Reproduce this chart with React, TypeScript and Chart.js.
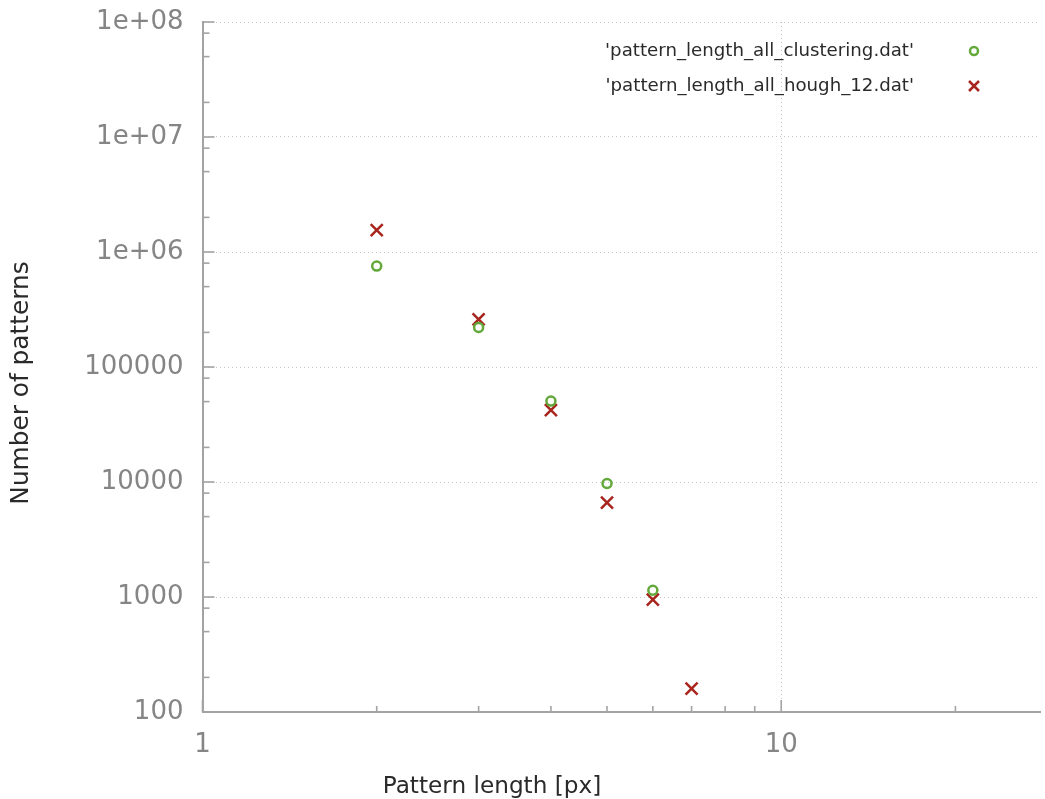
import React, { useEffect, useRef } from "react";
import { Chart, registerables } from "chart.js";

Chart.register(...registerables);

// ---- data ----
const clusteringX = [2, 3, 4, 5, 6];
const clusteringCounts = [754000, 221000, 50500, 9700, 1145];
const houghX = [2, 3, 4, 5, 6, 7];
const houghCounts = [1550000, 259000, 42200, 6630, 950, 160];
const seriesLabels = [
  "'pattern_length_all_clustering.dat'",
  "'pattern_length_all_hough_12.dat'",
];
const xTickValues = [1, 10];
const xTickLabels = ["1", "10"];
const xMinorValues = [2, 3, 4, 5, 6, 7, 8, 9, 20];
const yTickValues = [100, 1000, 10000, 100000, 1e6, 1e7, 1e8];
const yTickLabels = ["100", "1000", "10000", "100000", "1e+06", "1e+07", "1e+08"];
const yMinorMultipliers = [2, 5, 8];
const xTitle = "Pattern length [px]";
const yTitle = "Number of patterns";

// ---- styles ----
const FONT = "'DejaVu Sans', sans-serif";
const GREEN = "#62a83a";
const RED = "#a8251e";
const AXIS = "#a3a3a3";
const TICK_TEXT = "#858585";
const TITLE_TEXT = "#2a2a2a";
const GRID = "#c4c4c4";

const inwardTicks = {
  id: "inwardTicks",
  afterDraw(chart: any) {
    const { ctx, chartArea, scales } = chart;
    const { left, bottom } = chartArea;
    const x = scales.x;
    const y = scales.y;
    ctx.save();
    ctx.strokeStyle = AXIS;
    ctx.lineWidth = 1.6;
    const hLine = (py: number, len: number) => {
      ctx.beginPath();
      ctx.moveTo(left, py);
      ctx.lineTo(left + len, py);
      ctx.stroke();
    };
    const vLine = (px: number, len: number) => {
      ctx.beginPath();
      ctx.moveTo(px, bottom);
      ctx.lineTo(px, bottom - len);
      ctx.stroke();
    };
    yTickValues.forEach((v) => hLine(y.getPixelForValue(v), 12));
    yTickValues.forEach((v) => {
      yMinorMultipliers.forEach((m) => {
        const val = v * m;
        if (val < (y.max as number)) hLine(y.getPixelForValue(val), 7);
      });
    });
    xTickValues.forEach((v) => vLine(x.getPixelForValue(v), 12));
    xMinorValues.forEach((v) => vLine(x.getPixelForValue(v), 6));
    ctx.restore();
  },
};

const gnuTitles = {
  id: "gnuTitles",
  afterDraw(chart: any) {
    const { ctx } = chart;
    ctx.save();
    ctx.fillStyle = TITLE_TEXT;
    ctx.textAlign = "center";
    ctx.textBaseline = "middle";
    ctx.font = `23.2px ${FONT}`;
    ctx.fillText(xTitle, 492, 787);
    ctx.translate(22, 383);
    ctx.rotate(-Math.PI / 2);
    ctx.font = `24.8px ${FONT}`;
    ctx.fillText(yTitle, 0, 0);
    ctx.restore();
  },
};

const gnuLegend = {
  id: "gnuLegend",
  afterDraw(chart: any) {
    const { ctx } = chart;
    const textRight = 914;
    const markX = 974;
    const rows = [51, 86];
    ctx.save();
    ctx.font = `18.2px ${FONT}`;
    ctx.fillStyle = TITLE_TEXT;
    ctx.textAlign = "right";
    ctx.textBaseline = "middle";
    chart.data.datasets.forEach((ds: any, i: number) => {
      ctx.fillText(ds.label, textRight, rows[i]);
    });
    ctx.lineWidth = 2.5;
    ctx.strokeStyle = GREEN;
    ctx.beginPath();
    ctx.arc(markX, rows[0], 4, 0, Math.PI * 2);
    ctx.stroke();
    ctx.strokeStyle = RED;
    const h = 5;
    ctx.beginPath();
    ctx.moveTo(markX - h, rows[1] - h);
    ctx.lineTo(markX + h, rows[1] + h);
    ctx.moveTo(markX + h, rows[1] - h);
    ctx.lineTo(markX - h, rows[1] + h);
    ctx.stroke();
    ctx.restore();
  },
};

export default function App() {
  const ref = useRef<HTMLCanvasElement | null>(null);
  useEffect(() => {
    if (!ref.current) return;
    const chart = new Chart(ref.current, {
      type: "scatter",
      data: {
        datasets: [
          {
            label: seriesLabels[0],
            data: clusteringX.map((x, i) => ({ x, y: clusteringCounts[i] })),
            pointStyle: "circle",
            pointRadius: 4.5,
            pointBorderWidth: 2.5,
            pointBorderColor: GREEN,
            pointBackgroundColor: "rgba(0,0,0,0)",
            borderColor: GREEN,
            backgroundColor: "rgba(0,0,0,0)",
          },
          {
            label: seriesLabels[1],
            data: houghX.map((x, i) => ({ x, y: houghCounts[i] })),
            pointStyle: "crossRot",
            pointRadius: 8.5,
            pointBorderWidth: 2.5,
            pointBorderColor: RED,
            pointBackgroundColor: RED,
            borderColor: RED,
            backgroundColor: RED,
          },
        ],
      },
      options: {
        animation: false,
        responsive: false,
        layout: { autoPadding: false, padding: { top: 22, right: 5, left: 0, bottom: 0 } },
        plugins: {
          legend: { display: false },
          tooltip: { enabled: false },
        },
        scales: {
          x: {
            type: "logarithmic",
            min: 1,
            max: 28,
            afterBuildTicks: (s: any) => {
              s.ticks = xTickValues.map((v) => ({ value: v }));
            },
            afterFit: (s: any) => {
              s.height = 87;
              s.paddingLeft = 0;
              s.paddingRight = 0;
            },
            ticks: {
              autoSkip: false,
              maxRotation: 0,
              padding: 18,
              color: TICK_TEXT,
              font: { family: FONT, size: 26 },
              callback: (_v: any, i: number) => xTickLabels[i],
            },
            grid: { color: GRID, lineWidth: 1, drawTicks: false },
            border: { display: true, color: AXIS, width: 2, dash: [1, 3] },
            title: { display: false },
          },
          y: {
            type: "logarithmic",
            min: 100,
            max: 1e8,
            afterBuildTicks: (s: any) => {
              s.ticks = yTickValues.map((v) => ({ value: v }));
            },
            afterFit: (s: any) => {
              s.width = 202.5;
              s.paddingTop = 0;
              s.paddingBottom = 0;
            },
            ticks: {
              autoSkip: false,
              padding: 19,
              color: TICK_TEXT,
              font: { family: FONT, size: 26 },
              callback: (_v: any, i: number) => yTickLabels[i],
            },
            grid: { color: GRID, lineWidth: 1, drawTicks: false },
            border: { display: true, color: AXIS, width: 2, dash: [1, 3] },
            title: { display: false },
          },
        },
      },
      plugins: [inwardTicks, gnuTitles, gnuLegend],
    } as any);
    return () => chart.destroy();
  }, []);
  return (
    <div style={{ position: "fixed", left: 0, top: 0, width: 1045, height: 799, background: "#fff" }}>
      <canvas ref={ref} width={1045} height={799} style={{ display: "block" }} />
    </div>
  );
}
